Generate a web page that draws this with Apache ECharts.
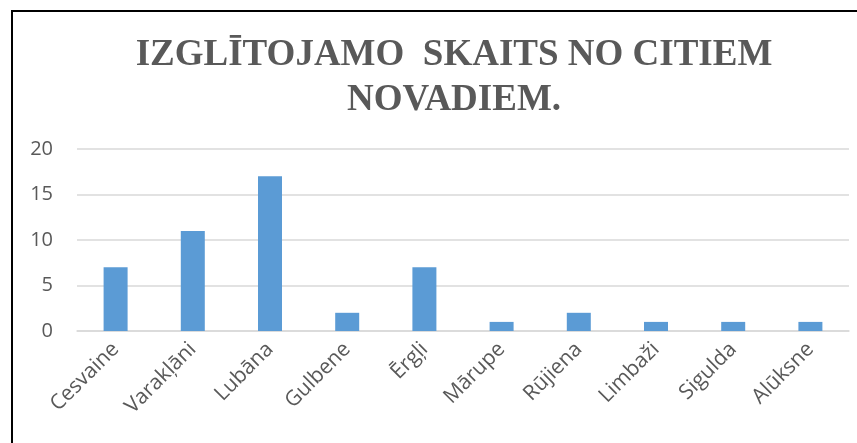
<!DOCTYPE html>
<html>
<head>
<meta charset="utf-8">
<script src="https://cdn.jsdelivr.net/npm/echarts@6/dist/echarts.min.js"></script>
<style>
html,body{margin:0;padding:0;background:#fff;}
#chart{width:857px;height:443px;}
</style>
</head>
<body>
<div id="chart"></div>
<script>
const titleText = 'IZGLĪTOJAMO  SKAITS NO CITIEM\nNOVADIEM.';
const categories = ['Cesvaine','Varakļāni','Lubāna','Gulbene','Ērgļi','Mārupe','Rūjiena','Limbaži','Sigulda','Alūksne'];
const values = [7, 11, 17, 2, 7, 1, 2, 1, 1, 1];
const yTicks = { min: 0, max: 20, interval: 5 };

const chart = echarts.init(document.getElementById('chart'));
chart.setOption({
  animation: false,
  backgroundColor: '#fff',
  title: {
    text: titleText,
    left: 449,
    top: 28,
    textAlign: 'center',
    textStyle: {
      fontFamily: '"Liberation Serif", "DejaVu Serif", serif',
      fontWeight: 'bold',
      fontSize: 37,
      lineHeight: 45,
      color: '#595959'
    }
  },
  graphic: [{
    type: 'polyline',
    silent: true,
    shape: { points: [[12, 460], [12, 11], [870, 11]] },
    style: { stroke: '#000', lineWidth: 2, fill: null }
  }],
  grid: { left: 77, right: 8, top: 149, bottom: 112, containLabel: false },
  xAxis: {
    type: 'category',
    data: categories,
    axisLine: { lineStyle: { color: '#d9d9d9', width: 1.5 } },
    axisTick: { show: false },
    axisLabel: {
      interval: 0,
      rotate: 45,
      margin: 15,
      color: '#595959',
      fontSize: 21,
      fontFamily: '"Open Sans", "Noto Sans", sans-serif'
    }
  },
  yAxis: {
    type: 'value',
    min: yTicks.min,
    max: yTicks.max,
    interval: yTicks.interval,
    axisLine: { show: false },
    axisTick: { show: false },
    splitLine: { lineStyle: { color: '#d9d9d9', width: 1.5 } },
    axisLabel: {
      margin: 24,
      color: '#595959',
      fontSize: 20,
      fontFamily: '"Open Sans", "Noto Sans", sans-serif'
    }
  },
  series: [{
    type: 'bar',
    data: values,
    barWidth: 24,
    itemStyle: { color: '#5B9BD5' }
  }]
});
</script>
</body>
</html>
